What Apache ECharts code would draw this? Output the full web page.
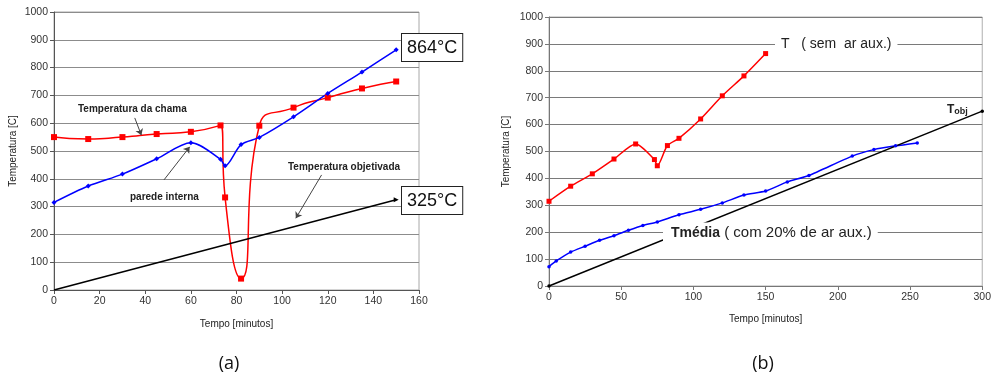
<!DOCTYPE html>
<html>
<head>
<meta charset="utf-8">
<script src="https://cdn.jsdelivr.net/npm/echarts@6/dist/echarts.min.js"></script>
<style>
  html, body {margin: 0; padding: 0; background: #fff;}
  #chart {width: 994px; height: 382px;}
</style>
</head>
<body>
<div id="chart"></div>
<script>
// (a) valores
const tempoA = [0, 15, 30, 45, 60, 73, 75, 82, 90, 105, 120, 135, 150]
const chama = [550, 543, 550, 561, 569, 592, 333, 41, 591, 656, 692, 725, 750]
const parede = [315, 374, 417, 472, 530, 470, 447, 523, 549, 623, 707, 784, 864]
const tempoObjA = [0, 150]
const objetivadaA = [0, 325]

// (b)
const tempoB = [0, 15, 30, 45, 60, 73, 75, 82, 90, 105, 120, 135, 150]
const semAr = [315, 371, 417, 472, 528, 470, 447, 522, 549, 621, 707, 781, 864]
const tempoMedia = [0, 5, 15, 25, 35, 45, 55, 65, 75, 90, 105, 120, 135, 150, 165, 180, 210, 225, 240, 255]
const media = [72, 93, 126, 148, 170, 187, 207, 225, 238, 265, 285, 309, 338, 353, 387, 411, 483, 507, 521, 532]
const tempoObjB = [0, 300]
const objetivadaB = [0, 650]

const zip = (xs, ys) => xs.map((x, i) => [x, ys[i]])
const font = 'Liberation Sans, Arial, sans-serif'

const chart = echarts.init(document.getElementById('chart'))

const axisCommon = (color, size) => ({
    axisLine: {show: true, lineStyle: {color: color, width: 1}},
    axisTick: {show: true, inside: false, length: 4, lineStyle: {color: color}},
    axisLabel: {color: '#333', fontSize: size, fontFamily: font, margin: 6, formatter: v => String(v)},
    nameTextStyle: {color: '#222', fontSize: 10, fontFamily: font},
})

chart.setOption({
    animation: false,
    grid: [
        {left: 54, top: 12, width: 365, height: 278, show: true, borderColor: '#a8a8a8', borderWidth: 1},
        {left: 549, top: 17, width: 437, height: 269, show: true, borderColor: '#b0b0b0', borderWidth: 1},
    ],
    xAxis: [
        {
            gridIndex: 0, type: 'value', min: 0, max: 160, interval: 20,
            ...axisCommon('#555', 10.5),
            splitLine: {show: false},
            name: 'Tempo [minutos]', nameLocation: 'middle', nameGap: 29,
        },
        {
            gridIndex: 1, type: 'value', min: 0, max: 300, interval: 50,
            ...axisCommon('#777', 10.5),
            splitLine: {show: false},
            name: 'Tempo [minutos]', nameLocation: 'middle', nameGap: 28,
        },
    ],
    yAxis: [
        {
            gridIndex: 0, type: 'value', min: 0, max: 1000, interval: 100,
            ...axisCommon('#555', 10.5),
            splitLine: {show: true, lineStyle: {color: '#8c8c8c', width: 1}},
            name: 'Temperatura [C]', nameLocation: 'middle', nameGap: 36,
        },
        {
            gridIndex: 1, type: 'value', min: 0, max: 1000, interval: 100,
            ...axisCommon('#777', 10.5),
            splitLine: {show: true, lineStyle: {color: '#7a7a7a', width: 1.2}},
            name: 'Temperatura [C]', nameLocation: 'middle', nameGap: 38,
        },
    ],
    series: [
        {
            name: 'Temperatura da chama', type: 'line', xAxisIndex: 0, yAxisIndex: 0,
            data: zip(tempoA, chama), smooth: 0.6,
            symbol: 'rect', symbolSize: 6,
            lineStyle: {color: '#ff0000', width: 1.5}, itemStyle: {color: '#ff0000'},
        },
        {
            name: 'parede interna', type: 'line', xAxisIndex: 0, yAxisIndex: 0,
            data: zip(tempoA, parede), smooth: 0.3,
            symbol: 'diamond', symbolSize: 5,
            lineStyle: {color: '#0000ff', width: 1.5}, itemStyle: {color: '#0000ff'},
        },
        {
            name: 'Temperatura objetivada', type: 'line', xAxisIndex: 0, yAxisIndex: 0,
            data: zip(tempoObjA, objetivadaA),
            symbol: 'none',
            lineStyle: {color: '#000', width: 1.5},
            markPoint: {
                silent: true, symbol: 'triangle', symbolSize: 5, symbolRotate: -90,
                itemStyle: {color: '#000'}, label: {show: false},
                data: [{coord: [tempoObjA[1], objetivadaA[1]]}],
            },
            markLine: {
                silent: true, symbol: ['none', 'arrow'], symbolSize: 6,
                lineStyle: {color: '#444', width: 1, type: 'solid'},
                label: {show: false},
                data: [
                    [{coord: [35.4, 619]}, {coord: [38.3, 557]}],
                    [{coord: [48.2, 396]}, {coord: [59.5, 515]}],
                    [{coord: [117.3, 414]}, {coord: [106, 258]}],
                ],
            },
        },
        {
            name: 'T (sem ar aux.)', type: 'line', xAxisIndex: 1, yAxisIndex: 1,
            data: zip(tempoB, semAr), smooth: 0.25,
            symbol: 'rect', symbolSize: 5,
            lineStyle: {color: '#ff0000', width: 1.5}, itemStyle: {color: '#ff0000'},
        },
        {
            name: 'Tmédia', type: 'line', xAxisIndex: 1, yAxisIndex: 1,
            data: zip(tempoMedia, media), smooth: 0.2,
            symbol: 'circle', symbolSize: 3.5,
            lineStyle: {color: '#0000ff', width: 1.5}, itemStyle: {color: '#0000ff'},
        },
        {
            name: 'Tobj', type: 'line', xAxisIndex: 1, yAxisIndex: 1,
            data: zip(tempoObjB, objetivadaB),
            symbol: 'circle', symbolSize: 3.5, showSymbol: true,
            lineStyle: {color: '#000', width: 1.5}, itemStyle: {color: '#000'},
        },
    ],
    graphic: [
        // (a)
        {type: 'text', x: 78, y: 109, z: 100, style: {text: 'Temperatura da chama', font: 'bold 10px ' + font, fill: '#222', verticalAlign: 'middle'}},
        {type: 'text', x: 130, y: 197, z: 100, style: {text: 'parede interna', font: 'bold 10px ' + font, fill: '#222', verticalAlign: 'middle'}},
        {type: 'text', x: 288, y: 167, z: 100, style: {text: 'Temperatura objetivada', font: 'bold 10px ' + font, fill: '#222', verticalAlign: 'middle'}},
        {type: 'text', x: 402, y: 34, z: 100, style: {text: '864°C', font: '18px ' + font, fill: '#111', backgroundColor: '#fff', borderColor: '#222', borderWidth: 1, padding: [5, 5, 4, 5]}},
        {type: 'text', x: 402, y: 187, z: 100, style: {text: '325°C', font: '18px ' + font, fill: '#111', backgroundColor: '#fff', borderColor: '#222', borderWidth: 1, padding: [5, 5, 4, 5]}},
        // (b)
        {type: 'text', x: 775, y: 44, z: 100, style: {
            text: '{t|T}{r|   ( sem  ar aux.)}', verticalAlign: 'middle', backgroundColor: '#fff', padding: [2, 6, 2, 6],
            rich: {t: {font: '14px ' + font, fill: '#222'}, r: {font: '14px ' + font, fill: '#222'}},
        }},
        {type: 'text', x: 663, y: 233, z: 100, style: {
            text: '{t|Tmédia}{r| ( com 20% de ar aux.)}', verticalAlign: 'middle', backgroundColor: '#fff', padding: [3, 6, 3, 8],
            rich: {t: {font: 'bold 14px ' + font, fill: '#222'}, r: {font: '15px ' + font, fill: '#222'}},
        }},
        {type: 'text', x: 947, y: 110, z: 100, style: {
            text: '{t|T}{s|obj}', verticalAlign: 'middle',
            rich: {t: {font: 'bold 12px ' + font, fill: '#222'}, s: {font: 'bold 9px ' + font, fill: '#222', padding: [3, 0, 0, 0]}},
        }},
        // legendas
        {type: 'text', x: 229, y: 364, style: {text: '(a)', font: '18px Open Sans, sans-serif', fill: '#111', align: 'center', verticalAlign: 'middle'}},
        {type: 'text', x: 763, y: 364, style: {text: '(b)', font: '18px Open Sans, sans-serif', fill: '#111', align: 'center', verticalAlign: 'middle'}},
    ],
})
</script>
</body>
</html>
